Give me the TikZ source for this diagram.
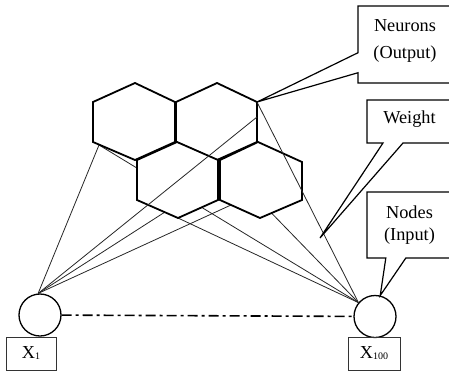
\documentclass[tikz,border=0pt]{standalone}
\usepackage{fontspec}
\setmainfont{Liberation Serif}
\usetikzlibrary{shapes.callouts}
\begin{document}
\begin{tikzpicture}[x=1pt, y=-1pt, font=\fontsize{18.3}{22}\selectfont,
		hexcell/.style={draw, line width=1.8pt, fill=white},
		wire/.style={draw=black!85, line width=0.8pt},
		unit/.style={circle, draw, line width=1.3pt, minimum size=42pt, inner sep=0pt},
		tag/.style={rectangle, draw=black!80, line width=1pt, minimum height=33pt, inner sep=0pt},
		note/.style={rectangle callout, draw, line width=1.2pt, callout pointer width=20pt, align=center, inner sep=0pt}]
		\useasboundingbox (0,0) rectangle (449,375);
		\clip (0,0) rectangle (449,375);

		\coordinate (a1) at (135,83);  \coordinate (a2) at (175,102); \coordinate (a3) at (175,142);
		\coordinate (a4) at (135,160); \coordinate (a5) at (93,142);  \coordinate (a6) at (93,102);
		\coordinate (b1) at (217,83);  \coordinate (b2) at (257,102); \coordinate (b3) at (257,142);
		\coordinate (b4) at (217,160); \coordinate (b5) at (176,142); \coordinate (b6) at (176,102);
		\coordinate (c1) at (177,142); \coordinate (c2) at (218,160); \coordinate (c3) at (218,200);
		\coordinate (c4) at (178,218); \coordinate (c5) at (137,200); \coordinate (c6) at (137,160);
		\coordinate (d1) at (258,142); \coordinate (d2) at (302,162); \coordinate (d3) at (302,200);
		\coordinate (d4) at (260,218); \coordinate (d5) at (220,200); \coordinate (d6) at (220,160);

		\coordinate (e1) at (99,145);
		\coordinate (e2) at (257,117);
		\coordinate (e3) at (165,212);
		\coordinate (e4) at (231,205);
		\coordinate (wtip) at (320,238);

		\node[unit] (x1) at (40,315) {};
		\node[unit] (x100) at (375,316.5) {};
		\node[tag, minimum width=50pt] (lab1) at (31,353.5) {X{\fontsize{10}{10}\selectfont\raisebox{-1pt}{1}}};
		\node[tag, minimum width=52pt] (lab100) at (374,353.5) {X{\fontsize{10}{10}\selectfont\raisebox{-1pt}{100}}};

		\path (x1.95) edge[wire] (e1);
		\path (x1.95) edge[wire] (e3);
		\path (x1.95) edge[wire] (e4);
		\path (x100.140) edge[wire] (e1);
		\path (x100.140) edge[wire] (c4);
		\path (x100.140) edge[wire] (d6);

		\draw[hexcell] (a1) -- (a2) -- (a3) -- (a4) -- (a5) -- (a6) -- cycle;
		\draw[hexcell] (b1) -- (b2) -- (b3) -- (b4) -- (b5) -- (b6) -- cycle;
		\draw[hexcell] (c1) -- (c2) -- (c3) -- (c4) -- (c5) -- (c6) -- cycle;
		\draw[hexcell] (d1) -- (d2) -- (d3) -- (d4) -- (d5) -- (d6) -- cycle;

		\path (x1.95) edge[wire] (e2);
		\path (x100.140) edge[wire] (b2);

		\draw[line width=1.6pt, dash pattern=on 10pt off 4pt on 3pt off 4pt] (x1) -- (x100);

		\node[note, font=\fontsize{18.3}{27}\selectfont, minimum width=94pt, minimum height=77pt,
			callout absolute pointer={(b2)}] (neurons) at (405,44.5)
			{\raisebox{4pt}[\height][\depth]{Neurons}\\\raisebox{4pt}[\height][\depth]{(Output)}};
		\node[note, minimum width=85pt, minimum height=43pt,
			callout absolute pointer={(wtip)}] (weight) at (409.5,121.5)
			{\raisebox{2pt}[\height][\depth]{Weight}};
		\node[note, minimum width=85pt, minimum height=66pt,
			callout absolute pointer={(x100.76)}] (nodes) at (409.5,225) {Nodes\\(Input)};
	\end{tikzpicture}
\end{document}
